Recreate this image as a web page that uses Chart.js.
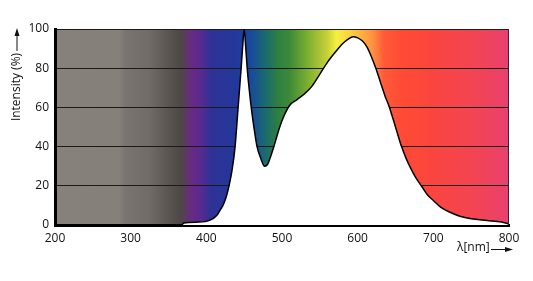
<!DOCTYPE html>
<html>
<head>
<meta charset="utf-8">
<script src="https://cdn.jsdelivr.net/npm/chart.js@4/dist/chart.umd.min.js"></script>
<style>
  html, body { margin: 0; padding: 0; background: #fff; }
  #c { display: block; }
</style>
</head>
<body>
<canvas id="c" width="533" height="281"></canvas>
<script>
// ---- data ----
const wavelengths = [368, 370, 390, 405, 414, 418, 422, 426, 430, 434, 438, 442, 446, 448, 450, 452, 454, 457, 460, 464, 467, 472, 477, 481, 485, 490, 497, 503, 510, 520, 530, 540, 550, 560, 570, 580, 588, 594, 600, 606, 612, 618, 624, 630, 636, 642, 650, 658, 664, 670, 677, 685, 693, 700, 710, 722, 735, 750, 771, 790, 800];
const intensity   = [0, 1, 1.5, 2.5, 5, 7.5, 10, 14, 20, 28, 40, 60, 80, 91, 100, 91, 80, 68, 58, 47, 40, 34, 30, 31, 35, 41, 50, 56, 61, 64, 67, 71, 77, 83, 88, 92.5, 95, 96, 95.5, 94, 91, 86, 80, 73, 66, 60, 50, 40, 34, 29, 24, 19.5, 15, 12.5, 9, 6.5, 4.5, 3.2, 2.3, 1.5, 0.5];
const yTicks = [0, 20, 40, 60, 80, 100];
const xTicks = [200, 300, 400, 500, 600, 700, 800];
const yTitle = 'Intensity (%)';
const xTitle = 'λ[nm]';

// spectral background colour stops (wavelength, colour)
const bgStopsNm  = [200, 285, 292, 325, 345, 366, 380, 393, 406, 440, 458, 478, 495, 510, 535, 560, 572, 590, 605, 620, 635, 660, 700, 760, 800];
const bgStopsCol = ['#87817c', '#85807a', '#7b7571', '#716b67', '#5f5955', '#4e4845', '#6a2a82', '#582a90', '#2e3296', '#22389a', '#1848a0', '#1a6a70', '#2e8040', '#3c8a38', '#80b030', '#c8d038', '#f4f040', '#ffd040', '#ffb040', '#ff9040', '#ff5a38', '#ff4a35', '#fa4540', '#f24455', '#e84070'];

const points = wavelengths.map((w, i) => ({ x: w, y: intensity[i] }));

const bgPlugin = {
  id: 'spectrumBg',
  beforeDraw(chart) {
    const { ctx, chartArea: a, scales } = chart;
    const xs = scales.x;
    const g = ctx.createLinearGradient(a.left, 0, a.right, 0);
    const span = a.right - a.left;
    bgStopsNm.forEach((nm, i) => {
      const p = (xs.getPixelForValue(nm) - a.left) / span;
      g.addColorStop(Math.min(1, Math.max(0, p)), bgStopsCol[i]);
    });
    ctx.save();
    ctx.fillStyle = g;
    ctx.fillRect(a.left, a.top, span, a.bottom - a.top);
    ctx.restore();
  },
  afterDraw(chart) {
    const { ctx, chartArea: a } = chart;
    ctx.save();
    // right border
    ctx.strokeStyle = '#2a2a2a';
    ctx.lineWidth = 1;
    ctx.beginPath();
    ctx.moveTo(a.right - 0.5, a.top);
    ctx.lineTo(a.right - 0.5, a.bottom);
    ctx.stroke();

    ctx.fillStyle = '#111';
    ctx.strokeStyle = '#111';
    // y title with arrow
    ctx.font = '12px "Open Sans", sans-serif';
    ctx.translate(17, 87);
    ctx.rotate(-Math.PI / 2);
    ctx.textAlign = 'center';
    ctx.textBaseline = 'middle';
    ctx.fillText(yTitle, 0, 0);
    ctx.lineWidth = 1;
    ctx.beginPath();
    ctx.moveTo(36, 0);
    ctx.lineTo(54, 0);
    ctx.stroke();
    ctx.beginPath();
    ctx.moveTo(59, 0);
    ctx.lineTo(51, -2.5);
    ctx.lineTo(51, 2.5);
    ctx.closePath();
    ctx.fill();
    ctx.setTransform(1, 0, 0, 1, 0, 0);

    // x title with arrow
    ctx.font = '12px "Open Sans", sans-serif';
    ctx.textAlign = 'left';
    ctx.textBaseline = 'middle';
    ctx.fillText(xTitle, 457, 248);
    ctx.beginPath();
    ctx.moveTo(491, 249.5);
    ctx.lineTo(508, 249.5);
    ctx.stroke();
    ctx.beginPath();
    ctx.moveTo(513, 249.5);
    ctx.lineTo(505, 247);
    ctx.lineTo(505, 252);
    ctx.closePath();
    ctx.fill();
    ctx.restore();
  }
};

new Chart(document.getElementById('c'), {
  type: 'line',
  data: {
    datasets: [{
      data: points,
      borderColor: '#000',
      borderWidth: 1.5,
      backgroundColor: '#ffffff',
      fill: 'origin',
      pointRadius: 0,
      cubicInterpolationMode: 'monotone'
    }]
  },
  options: {
    responsive: false,
    animation: false,
    layout: { padding: { top: 29, right: 24, left: 0, bottom: 0 } },
    plugins: { legend: { display: false }, tooltip: { enabled: false } },
    scales: {
      x: {
        type: 'linear',
        min: 200, max: 800,
        afterBuildTicks(s) { s.ticks = xTicks.map(v => ({ value: v })); },
        afterFit(s) { s.height = 56; },
        grid: { display: false, drawTicks: false },
        border: { display: true, color: '#000', width: 3 },
        ticks: { padding: 6, color: '#111', font: { family: 'Open Sans', size: 12 } }
      },
      y: {
        min: 0, max: 100,
        afterBuildTicks(s) { s.ticks = yTicks.map(v => ({ value: v })); },
        afterFit(s) { s.width = 55; },
        grid: { color: '#1a1a1a', lineWidth: 1, drawTicks: false },
        border: { display: true, color: '#000', width: 3 },
        ticks: { padding: 6, color: '#111', font: { family: 'Open Sans', size: 12 } }
      }
    }
  },
  plugins: [bgPlugin]
});
</script>
</body>
</html>
